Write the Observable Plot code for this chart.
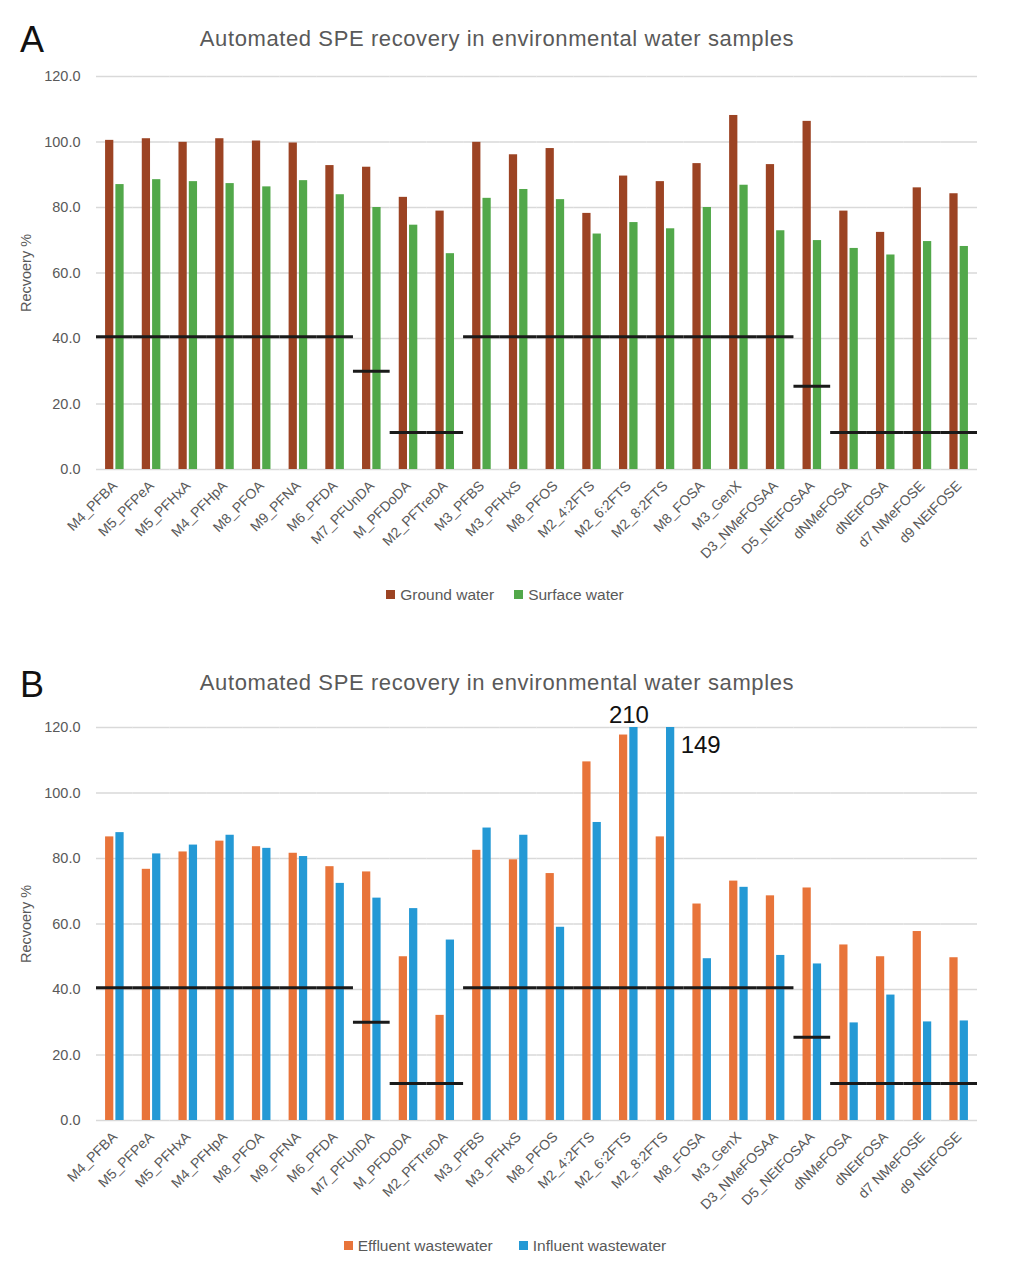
<!DOCTYPE html>
<html><head><meta charset="utf-8">
<script src="https://cdn.jsdelivr.net/npm/d3@7"></script>
<script src="https://cdn.jsdelivr.net/npm/@observablehq/plot@0.6"></script>
<style>
body{margin:0;background:#fff;font-family:"Liberation Sans",Arial,sans-serif;}
#wrap{position:relative;width:1010px;height:1280px;overflow:hidden;background:#fff;}
.abs{position:absolute;}
.panel{font-size:36px;color:#111;left:20px;line-height:1;}
.title{font-size:22px;letter-spacing:0.6px;color:#595959;left:0;width:994px;text-align:center;line-height:1;}
.legend{display:flex;justify-content:center;font-size:15.5px;color:#595959;width:1010px;left:0;line-height:1;}
.legend span{display:inline-flex;align-items:center;}
.sw{display:inline-block;width:9px;height:9px;margin-right:5px;}
svg{overflow:visible;}
</style>
</head><body>
<div id="wrap"></div>
<script>
const categories = ["M4_PFBA","M5_PFPeA","M5_PFHxA","M4_PFHpA","M8_PFOA","M9_PFNA","M6_PFDA","M7_PFUnDA","M_PFDoDA","M2_PFTreDA","M3_PFBS","M3_PFHxS","M8_PFOS","M2_4:2FTS","M2_6:2FTS","M2_8:2FTS","M8_FOSA","M3_GenX","D3_NMeFOSAA","D5_NEtFOSAA","dNMeFOSA","dNEtFOSA","d7 NMeFOSE","d9 NEtFOSE"];

const groundWater  = [100.5,101.0,99.9,101.0,100.3,99.7,92.8,92.3,83.1,78.9,99.9,96.1,98.0,78.2,89.6,87.9,93.4,108.1,93.1,106.3,78.9,72.4,86.0,84.2];
const surfaceWater = [87.0,88.5,87.9,87.3,86.3,88.2,83.9,80.0,74.6,65.9,82.8,85.5,82.4,71.9,75.4,73.5,80.0,86.8,72.9,69.9,67.5,65.5,69.6,68.1];

const effluent = [86.6,76.7,82.0,85.3,83.6,81.6,77.5,75.9,50.0,32.1,82.5,79.6,75.4,109.5,117.7,86.6,66.1,73.1,68.6,71.0,53.6,50.0,57.7,49.7];
const influent = [87.9,81.4,84.1,87.1,83.1,80.6,72.4,67.9,64.7,55.1,89.3,87.1,59.0,91.0,210,149,49.4,71.2,50.4,47.8,29.8,38.3,30.1,30.4];

const thresholds = [40.5,40.5,40.5,40.5,40.5,40.5,40.5,30,11.3,11.3,40.5,40.5,40.5,40.5,40.5,40.5,40.5,40.5,40.5,25.4,11.3,11.3,11.3,11.3];

const yTicks = [0,20,40,60,80,100,120];
const titleText = "Automated SPE recovery in environmental water samples";
const yLabel = "Recvoery %";

const seriesA = ["Ground water","Surface water"];
const colorsA = ["#9c4323","#52a84a"];
const seriesB = ["Effluent wastewater","Influent wastewater"];
const colorsB = ["#e8743a","#2499d5"];

const wrap = document.getElementById("wrap");

function addDiv(cls, top, html, extra){
  const d = document.createElement("div");
  d.className = "abs " + cls;
  d.style.top = top + "px";
  if (extra) Object.assign(d.style, extra);
  d.innerHTML = html;
  wrap.appendChild(d);
  return d;
}

function makeChart(names, v1, v2, colors, top, marginTop, annotations){
  const data = [];
  categories.forEach((c,i)=>{
    data.push({cat:c, series:names[0], value:v1[i]});
    data.push({cat:c, series:names[1], value:v2[i]});
  });
  const thr = categories.map((c,i)=>({cat:c, thr:thresholds[i]}));
  const plotH = 393;
  const marginBottom = 110;
  const marks = [
    Plot.gridY(yTicks, {stroke:"#d9d9d9", strokeOpacity:1, strokeWidth:1.3}),
    Plot.barY(data, {fx:"cat", x:"series", y:"value", fill:"series", clip:true}),
    Plot.ruleY(thr, {fx:"cat", y:"thr", stroke:"#1a1a1a", strokeWidth:3}),
    Plot.axisY(yTicks, {tickSize:0, tickPadding:16, tickFormat:d=>d.toFixed(1), label:yLabel, labelAnchor:"center", labelArrow:"none", labelOffset:76, fontSize:14.5}),
    Plot.axisFx({anchor:"bottom", tickSize:0, tickRotate:-45, tickPadding:14, label:null, fontSize:14})
  ];
  if (annotations) marks.push(...annotations);
  const svg = Plot.plot({
    width:1010, height: marginTop + plotH + marginBottom,
    marginLeft:96, marginRight:33, marginTop, marginBottom,
    style:{fontFamily:'"Liberation Sans", Arial, sans-serif', fontSize:"14px", color:"#595959", background:"transparent", overflow:"visible"},
    fx:{domain:categories, padding:0, round:false, label:null},
    x:{domain:names, paddingInner:0.2, paddingOuter:0.88, axis:null, round:false},
    y:{domain:[0,120], label:yLabel},
    color:{domain:names, range:colors},
    marks
  });
  svg.style.position = "absolute";
  svg.style.left = "0px";
  svg.style.top = top + "px";
  wrap.appendChild(svg);
}

function legendHTML(names, colors, gap){
  return names.map((n,i)=>`<span style="margin-left:${i? gap:0}px"><i class="sw" style="background:${colors[i]}"></i>${n}</span>`).join("");
}

// Panel A
addDiv("panel", 22, "A");
addDiv("title", 28, titleText);
makeChart(seriesA, groundWater, surfaceWater, colorsA, 60, 16, null);
addDiv("legend", 587, legendHTML(seriesA, colorsA, 20));

// Panel B
const outliers = categories.map((c,i)=>({cat:c, series:seriesB[1], value:influent[i]})).filter(d=>d.value>120);
const annB = [
  Plot.text([outliers[0]], {fx:"cat", x:"series", y:()=>120, text:d=>String(d.value), lineAnchor:"bottom", dy:-5, dx:-5, fontSize:24, fill:"#111"}),
  Plot.text([outliers[1]], {fx:"cat", x:"series", y:()=>114.7, text:d=>String(d.value), textAnchor:"start", lineAnchor:"middle", dx:10, fontSize:24, fill:"#111"})
];
addDiv("panel", 667, "B");
addDiv("title", 672, titleText);
makeChart(seriesB, effluent, influent, colorsB, 700, 27, annB);
addDiv("legend", 1238, legendHTML(seriesB, colorsB, 26));
</script>
</body></html>
